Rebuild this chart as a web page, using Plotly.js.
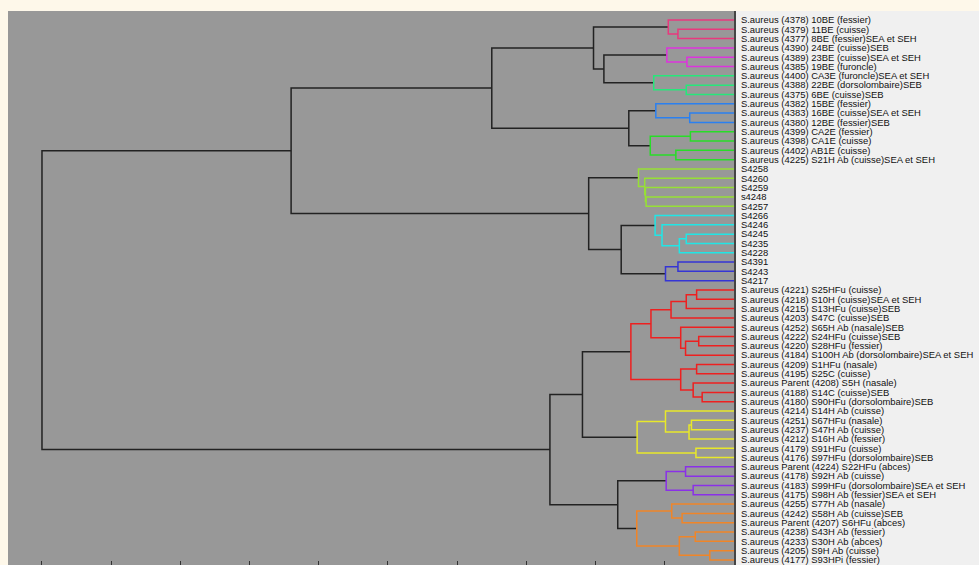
<!DOCTYPE html>
<html><head><meta charset="utf-8">
<script src="https://cdn.plot.ly/plotly-3.0.1.min.js"></script>
<style>html,body{margin:0;padding:0;background:#fef8ea;}#chart{width:979px;height:565px;}</style>
</head><body><div id="chart"></div>
<script>
// Leaf labels, top to bottom
const leafLabels = [
 "S.aureus (4378) 10BE (fessier)",
 "S.aureus (4379) 11BE (cuisse)",
 "S.aureus (4377) 8BE (fessier)SEA et SEH",
 "S.aureus (4390) 24BE (cuisse)SEB",
 "S.aureus (4389) 23BE (cuisse)SEA et SEH",
 "S.aureus (4385) 19BE (furoncle)",
 "S.aureus (4400) CA3E (furoncle)SEA et SEH",
 "S.aureus (4388) 22BE (dorsolombaire)SEB",
 "S.aureus (4375) 6BE (cuisse)SEB",
 "S.aureus (4382) 15BE (fessier)",
 "S.aureus (4383) 16BE (cuisse)SEA et SEH",
 "S.aureus (4380) 12BE (fessier)SEB",
 "S.aureus (4399) CA2E (fessier)",
 "S.aureus (4398) CA1E (cuisse)",
 "S.aureus (4402) AB1E (cuisse)",
 "S.aureus (4225) S21H Ab (cuisse)SEA et SEH",
 "S4258",
 "S4260",
 "S4259",
 "s4248",
 "S4257",
 "S4266",
 "S4246",
 "S4245",
 "S4235",
 "S4228",
 "S4391",
 "S4243",
 "S4217",
 "S.aureus (4221) S25HFu (cuisse)",
 "S.aureus (4218) S10H (cuisse)SEA et SEH",
 "S.aureus (4215) S13HFu (cuisse)SEB",
 "S.aureus (4203) S47C (cuisse)SEB",
 "S.aureus (4252) S65H Ab (nasale)SEB",
 "S.aureus (4222) S24HFu (cuisse)SEB",
 "S.aureus (4220) S28HFu (fessier)",
 "S.aureus (4184) S100H Ab (dorsolombaire)SEA et SEH",
 "S.aureus (4209) S1HFu (nasale)",
 "S.aureus (4195) S25C (cuisse)",
 "S.aureus Parent (4208) S5H (nasale)",
 "S.aureus (4188) S14C (cuisse)SEB",
 "S.aureus (4180) S90HFu (dorsolombaire)SEB",
 "S.aureus (4214) S14H Ab (cuisse)",
 "S.aureus (4251) S67HFu (nasale)",
 "S.aureus (4237) S47H Ab (cuisse)",
 "S.aureus (4212) S16H Ab (fessier)",
 "S.aureus (4179) S91HFu (cuisse)",
 "S.aureus (4176) S97HFu (dorsolombaire)SEB",
 "S.aureus Parent (4224) S22HFu (abces)",
 "S.aureus (4178) S92H Ab (cuisse)",
 "S.aureus (4183) S99HFu (dorsolombaire)SEA et SEH",
 "S.aureus (4175) S98H Ab (fessier)SEA et SEH",
 "S.aureus (4255) S77H Ab (nasale)",
 "S.aureus (4242) S58H Ab (cuisse)SEB",
 "S.aureus Parent (4207) S6HFu (abces)",
 "S.aureus (4238) S43H Ab (fessier)",
 "S.aureus (4233) S30H Ab (abces)",
 "S.aureus (4205) S9H Ab (cuisse)",
 "S.aureus (4177) S93HPi (fessier)"
];
// Cluster membership of each leaf
const leafCluster = [0,0,0, 1,1,1, 2,2,2, 3,3,3, 4,4,4,4, 5,5,5,5,5, 6,6,6,6,6, 7,7,7,
  8,8,8,8,8,8,8,8,8,8,8,8,8, 9,9,9,9,9,9, 10,10,10,10, 11,11,11,11,11,11,11];
const clusterColors = ['#e8397d','#dd33dd','#25e87a','#2b80f0','#28dd28','#96e035',
  '#20e6e6','#3535d5','#ee2020','#e8e82a','#8a30e8','#f08528'];
const linkColor = '#222222';
// Linkage: leaves are 0..58, merge k creates node 59+k
const mergeLeft  = [1,0,4,3,7,6,62,60,10,9,12,14,69,68,66,
  19,18,17,16,23,78,22,21,26,82,81,77,73,
  29,87,88,34,90,33,89,37,40,39,94,93,43,99,42,46,101,98,
  48,50,105,53,52,55,57,110,109,107,104,86];
const mergeRight = [2,59,5,61,8,63,64,65,11,67,13,15,70,71,72,
  20,74,75,76,24,25,79,80,27,28,83,84,85,
  30,31,32,35,36,91,92,38,41,95,96,97,44,45,100,47,102,103,
  49,51,106,54,108,56,58,111,112,113,114,115];
const mergeHeight = [0.081,0.095,0.068,0.097,0.069,0.116,0.188,0.203,0.064,0.113,0.063,0.084,0.121,0.152,0.350,
  0.127,0.128,0.129,0.138,0.069,0.079,0.104,0.114,0.081,0.099,0.163,0.210,0.640,
  0.054,0.069,0.091,0.051,0.070,0.077,0.120,0.054,0.046,0.059,0.077,0.149,0.0615,0.065,0.099,0.055,0.140,0.219,
  0.070,0.059,0.098,0.075,0.090,0.056,0.035,0.079,0.1405,0.168,0.266,1.0];
const distanceTicks = [0,0.1,0.2,0.3,0.4,0.5,0.6,0.7,0.8,0.9,1.0];

const nLeaf = leafLabels.length;
const nodeY = [], nodeH = [], nodeC = [];
for (let i = 0; i < nLeaf; i++) { nodeY.push(i + 1); nodeH.push(0); nodeC.push(leafCluster[i]); }
const segs = {};
const order = [];
for (let k = 0; k < mergeLeft.length; k++) {
  const a = mergeLeft[k], b = mergeRight[k], h = mergeHeight[k];
  const ya = nodeY[a], yb = nodeY[b];
  const c = (nodeC[a] === nodeC[b] && nodeC[a] !== -1) ? nodeC[a] : -1;
  const col = c === -1 ? linkColor : clusterColors[c];
  if (!segs[col]) { segs[col] = {x: [], y: []}; order.push(col); }
  segs[col].x.push(nodeH[a], h, h, nodeH[b], null);
  segs[col].y.push(ya, ya, yb, yb, null);
  nodeY.push((ya + yb) / 2); nodeH.push(h); nodeC.push(c);
}
order.sort((p, q) => (p === linkColor ? -1 : 0) - (q === linkColor ? -1 : 0));
const traces = order.map(col => ({
  type: 'scatter', mode: 'lines', x: segs[col].x, y: segs[col].y,
  line: {color: col, width: 1.5}, hoverinfo: 'skip', showlegend: false, connectgaps: false
}));

const W = 979, H = 565, L = 8, R = 245, T = 11, B = 0;
const layout = {
  width: W, height: H,
  margin: {l: L, r: R, t: T, b: B, pad: 0},
  paper_bgcolor: '#fef8ea',
  plot_bgcolor: '#989898',
  showlegend: false,
  xaxis: {
    range: [1.0491, 0], tickvals: distanceTicks, ticks: 'inside', ticklen: 4,
    tickcolor: '#333', tickwidth: 1, showticklabels: false,
    showgrid: false, zeroline: false, showline: false, fixedrange: true
  },
  yaxis: {
    range: [59.54, 0.0333], side: 'right',
    tickvals: leafLabels.map((_, i) => i + 1), ticktext: leafLabels,
    ticks: '', ticklabelstandoff: 3, ticklabeloverflow: 'allow',
    tickfont: {family: 'Liberation Sans, Arial, sans-serif', size: 9.45, color: '#111'},
    showgrid: false, zeroline: false, showline: true, linecolor: '#454545', linewidth: 2,
    fixedrange: true
  },
  shapes: [{
    type: 'rect', xref: 'paper', yref: 'paper', x0: 1, x1: 1 + R / (W - L - R), y0: 0, y1: 1,
    fillcolor: '#f0f0f0', line: {width: 0}, layer: 'below'
  }]
};
Plotly.newPlot('chart', traces, layout, {displayModeBar: false, staticPlot: true});
</script>
</body></html>
